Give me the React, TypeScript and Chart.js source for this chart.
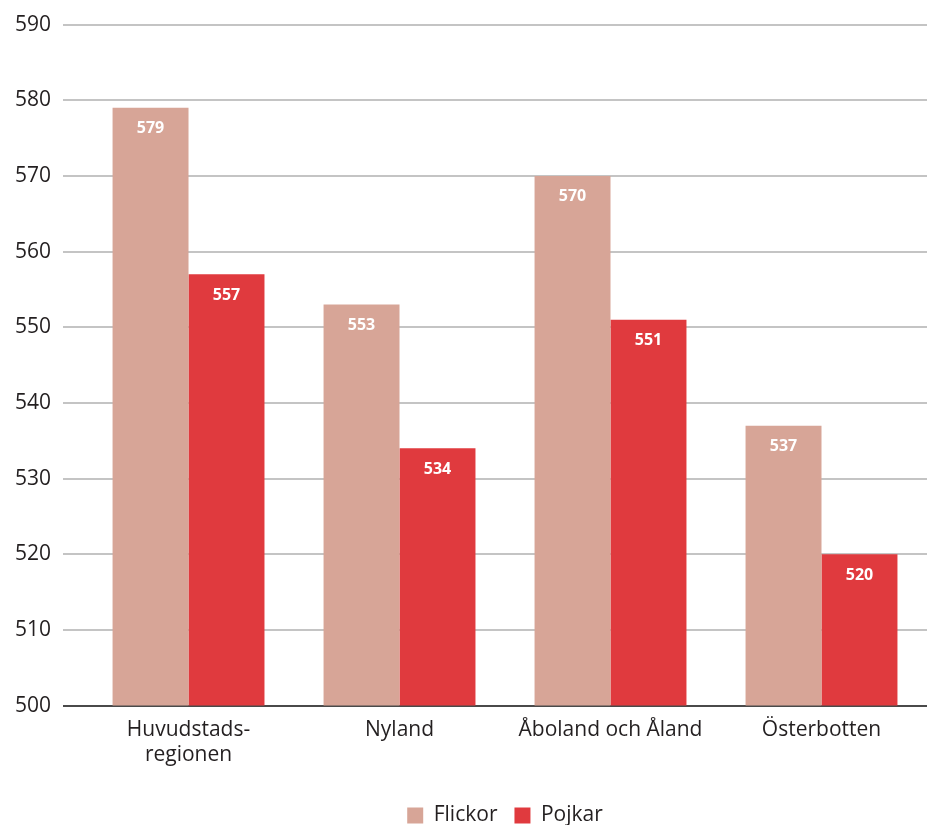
import React, { useEffect, useRef } from "react";
import { Chart, registerables } from "chart.js";

Chart.register(...registerables);

const categories: (string | string[])[] = [
  ["Huvudstads-", "regionen"],
  "Nyland",
  "Åboland och Åland",
  "Österbotten",
];
const flickor = [579, 553, 570, 537];
const pojkar = [557, 534, 551, 520];
const yMin = 500;
const yMax = 590;
const yStep = 10;

const FONT = "'Open Sans', 'Noto Sans', sans-serif";

const valueLabels = {
  id: "valueLabels",
  afterDatasetsDraw(chart: any) {
    const ctx = chart.ctx;
    ctx.save();
    ctx.fillStyle = "#ffffff";
    ctx.font = `bold 16px ${FONT}`;
    ctx.textAlign = "center";
    ctx.textBaseline = "middle";
    chart.data.datasets.forEach((ds: any, i: number) => {
      const meta = chart.getDatasetMeta(i);
      meta.data.forEach((bar: any, j: number) => {
        ctx.fillText(String(ds.data[j]), bar.x, bar.y + 21);
      });
    });
    ctx.restore();
  },
};

export default function App() {
  const ref = useRef<HTMLCanvasElement>(null);
  useEffect(() => {
    document.body.style.margin = "0";
    const chart = new Chart(ref.current!, {
      type: "bar",
      data: {
        labels: categories,
        datasets: [
          { label: "Flickor", data: flickor, backgroundColor: "#D7A597" },
          { label: "Pojkar", data: pojkar, backgroundColor: "#E03A3E" },
        ],
      },
      options: {
        animation: false,
        responsive: false,
        maintainAspectRatio: false,
        layout: { padding: { top: 13, right: 6, left: 3, bottom: -11 } },
        datasets: {
          bar: { categoryPercentage: 0.72, barPercentage: 1 },
        },
        scales: {
          x: {
            grid: { display: false },
            border: { display: false },
            afterFit: (scale: any) => {
              scale.height += 16;
            },
            ticks: {
              color: "#231f20",
              font: { family: FONT, size: 21 },
              padding: 4,
              maxRotation: 0,
            },
          },
          y: {
            min: yMin,
            max: yMax,
            border: { display: false },
            grid: {
              tickLength: 20,
              lineWidth: 2,
              color: (c: any) => (c.tick && c.tick.value === yMin ? "#4a4a4a" : "#c4c4c4"),
            },
            ticks: {
              stepSize: yStep,
              color: "#231f20",
              font: { family: FONT, size: 21 },
              padding: 12,
            },
          },
        },
        plugins: {
          tooltip: { enabled: false },
          legend: {
            position: "bottom",
            fullSize: false,
            labels: {
              color: "#231f20",
              font: { family: FONT, size: 21 },
              boxWidth: 16,
              boxHeight: 16,
              padding: 17,
            },
          },
        },
      },
      plugins: [valueLabels],
    });
    return () => chart.destroy();
  }, []);
  return <canvas ref={ref} width={933} height={825} style={{ display: "block" }} />;
}
